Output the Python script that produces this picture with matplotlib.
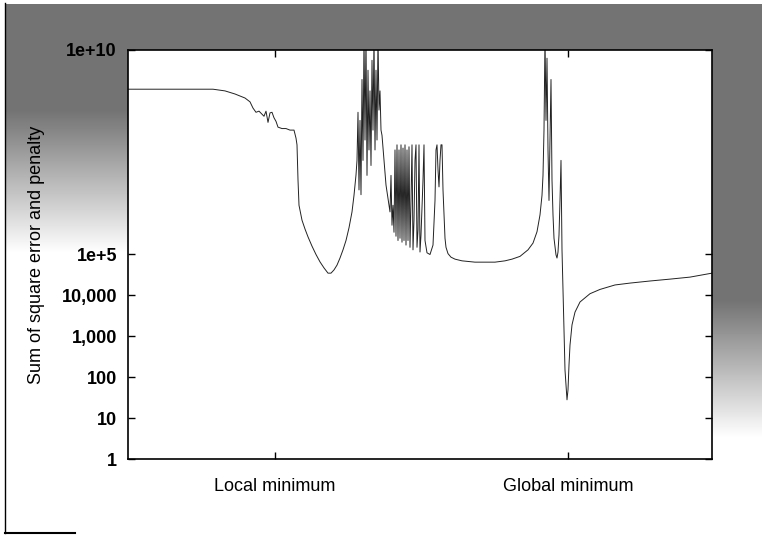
import numpy as np
import matplotlib
matplotlib.use("Agg")
import matplotlib.pyplot as plt
from matplotlib.lines import Line2D

# (position along search path, sum of square error and penalty)
descent = [(0, 1.1e9), (85, 1.1e9), (97, 1.0e9), (107, 8.4e8), (117, 6.7e8),
           (122, 5.4e8), (125, 3.8e8), (128, 3.0e8), (131, 3.2e8), (134, 2.7e8),
           (136, 2.4e8), (138, 3.2e8), (140, 1.7e8), (142, 2.9e8), (144, 3.0e8),
           (146, 2.2e8), (148, 1.8e8), (150, 1.3e8), (154, 1.2e8), (158, 1.2e8),
           (162, 1.1e8), (166, 1.1e8), (168, 7.0e7), (169, 4.8e7), (170, 6.7e6),
           (171, 1.6e6), (172, 1.2e6), (174, 6.9e5), (177, 4.2e5), (180, 2.7e5),
           (184, 1.6e5), (188, 1.0e5), (192, 6.6e4), (196, 4.7e4), (200, 3.5e4),
           (203, 3.5e4), (206, 4.2e4), (209, 5.5e4), (212, 8.2e4), (215, 1.3e5),
           (218, 2.2e5), (221, 4.5e5), (224, 1.1e6), (226, 2.8e6), (228, 8.8e6),
           (229, 2.0e7)]

burst_1 = [(230, 3.0e8), (231, 3.8e6), (232, 1.9e8), (233, 2.9e6), (234, 1.9e9),
           (235, 2.0e7), (236, 2e10), (237, 6.3e7), (238, 2e10), (239, 8.6e6),
           (240, 3.2e9), (241, 3.6e7), (242, 1.0e9), (243, 1.5e7), (244, 5.6e9),
           (245, 1.1e8), (246, 2e10), (247, 3.6e7), (248, 3.2e9), (249, 6.3e7),
           (250, 2e10), (251, 3.4e8), (252, 1.0e9), (253, 1.1e8), (254, 8.2e7),
           (256, 2.0e7), (258, 5.0e6), (261, 1.6e6)]

burst_2 = [(262, 1.1e6), (263, 8.6e6), (264, 5.2e5), (265, 1.6e6), (266, 3.5e5),
           (267, 3.6e7), (268, 2.8e5), (269, 4.8e7), (270, 2.2e5), (271, 3.6e7),
           (272, 2.5e5), (273, 4.8e7), (274, 2.0e5), (275, 4.0e7), (276, 2.2e5),
           (277, 4.8e7), (278, 1.7e5), (279, 3.6e7), (280, 2.2e5), (281, 4.3e7),
           (282, 1.5e5), (283, 2.1e6), (284, 4.8e7), (285, 1.3e5), (286, 6.9e5),
           (287, 2.0e7), (288, 4.8e7), (289, 1.5e5), (290, 4.0e5), (291, 4.8e7),
           (292, 1.15e5), (293, 3.0e5), (295, 6.6e6), (296, 4.8e7), (297, 2.2e5),
           (299, 1.1e5), (302, 1.0e5), (305, 1.7e5), (307, 2.1e6), (308, 3.6e7),
           (309, 4.8e7), (310, 1.2e7), (311, 4.5e6), (312, 2.0e7), (313, 4.8e7),
           (314, 4.8e7), (315, 3.8e6), (316, 9.3e5), (317, 2.5e5), (318, 1.5e5),
           (320, 1.05e5), (323, 8.6e4), (327, 7.7e4)]

plateau = [(334, 7.0e4), (347, 6.5e4), (367, 6.5e4), (377, 7.0e4), (384, 7.7e4),
           (392, 9.0e4), (400, 1.3e5), (405, 1.9e5), (409, 3.6e5), (412, 9.3e5),
           (414, 2.8e6), (415, 8.6e6), (416, 1.1e8)]

burst_3 = [(417, 2e10), (418, 1.9e8), (419, 6.3e9), (420, 3.6e7), (421, 2.1e6),
           (422, 6.3e7), (423, 1.9e9), (424, 6.6e6), (425, 9.3e5), (426, 2.5e5),
           (428, 9.8e4), (429, 8.2e4), (430, 1.15e5), (431, 3.0e5), (432, 2.1e6),
           (433, 2.0e7), (434, 1.3e5), (435, 1.35e4), (436, 1.4e3), (437, 1.5e2),
           (439, 28), (440, 49), (441, 2.0e2)]

recovery = [(442, 6.1e2), (444, 1.9e3), (447, 3.9e3), (452, 6.9e3), (462, 1.1e4),
            (472, 1.4e4), (487, 1.8e4), (502, 2.0e4), (522, 2.25e4), (542, 2.5e4),
            (562, 2.8e4), (584, 3.5e4)]

ytick_vals = [1, 10, 100, 1000, 1e4, 1e5, 1e10]
ytick_labels = ["1", "10", "100", "1,000", "10,000", "1e+5", "1e+10"]
xtick_vals = [147, 440]
xtick_labels = ["Local minimum", "Global minimum"]

path = descent + burst_1 + burst_2 + plateau + burst_3 + recovery
pos = [p for p, v in path]
sse = [v for p, v in path]

plt.rcParams["font.family"] = ["Liberation Sans Narrow", "Liberation Sans", "DejaVu Sans"]

fig = plt.figure(figsize=(7.62, 5.36), dpi=100)

# scanned grey backdrop behind the plot
H, W = 536, 762
yy, xx = np.mgrid[0:H, 0:W]
shade = np.zeros((H, W))
shade[(yy >= 4) & (yy < 50) & (xx >= 5)] = 0.55
left = (xx >= 5) & (xx < 128) & (yy >= 4)
shade[left] = np.clip(0.55 - (yy[left] - 110) / 260.0, 0, 0.55)
right = (xx >= 712) & (yy >= 4)
shade[right] = np.clip(0.55 - (yy[right] - 300) / 250.0, 0, 0.55)
bg = fig.add_axes([0, 0, 1, 1])
bg.imshow(1 - shade, cmap="gray", vmin=0, vmax=1, aspect="auto")
bg.axis("off")
fig.add_artist(Line2D([5 / W, 5 / W], [0.005, 0.995], color="black", lw=1))
fig.add_artist(Line2D([5 / W, 75 / W], [3 / H, 3 / H], color="black", lw=1.5))

ax = fig.add_axes([128 / W, (H - 459) / H, 584 / W, 409 / H])
ax.set_facecolor("white")
ax.plot(pos, sse, color="#222222", lw=0.7)
ax.set_yscale("log")
ax.set_ylim(1, 1e10)
ax.set_xlim(0, 584)
ax.set_yticks(ytick_vals)
ax.set_yticklabels(ytick_labels, fontsize=13, fontweight="bold")
ax.minorticks_off()
ax.set_xticks(xtick_vals)
ax.set_xticklabels(xtick_labels, fontsize=13)
ax.tick_params(direction="in", length=5, width=1, top=True, right=True, pad=8)
ax.tick_params(axis="x", pad=14)
for s in ax.spines.values():
    s.set_linewidth(1.2)
ax.set_ylabel("Sum of square error and penalty", fontsize=13, labelpad=12)

fig.savefig("out.png", dpi=100)
